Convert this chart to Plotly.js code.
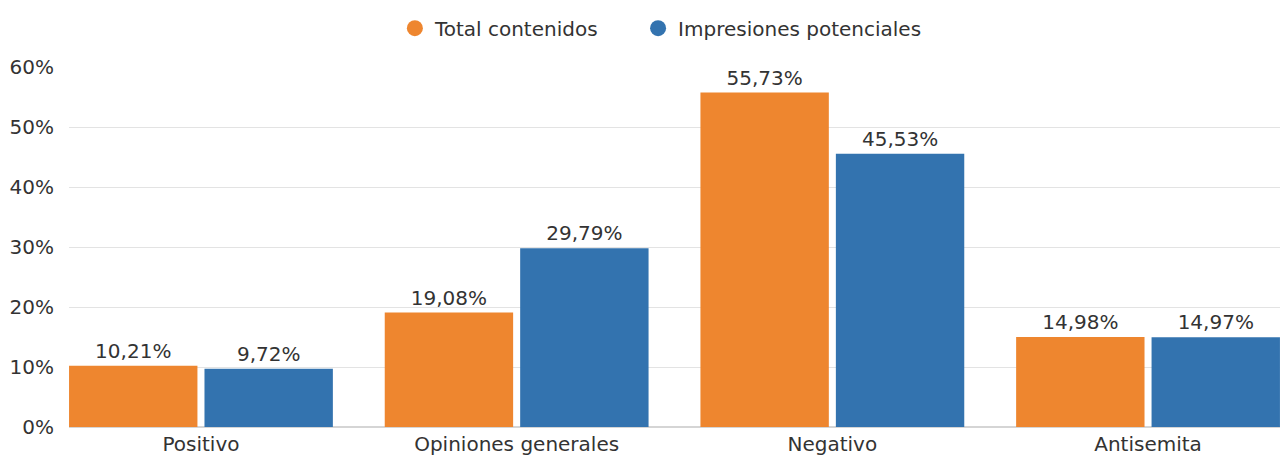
<!DOCTYPE html>
<html>
<head>
<meta charset="utf-8">
<script src="https://cdn.plot.ly/plotly-3.0.1.min.js"></script>
<style>html,body{margin:0;padding:0;background:#fff;}#chart{width:1280px;height:455px;}</style>
</head>
<body>
<div id="chart"></div>
<script>
const categories = ["Positivo", "Opiniones generales", "Negativo", "Antisemita"];
const totalContenidos = [10.21, 19.08, 55.73, 14.98];
const impresionesPotenciales = [9.72, 29.79, 45.53, 14.97];
const seriesNames = ["Total contenidos", "Impresiones potenciales"];
const yTicks = [0, 10, 20, 30, 40, 50, 60];

const orange = "#EE862F";
const blue = "#3373AF";
const font = "DejaVu Sans, sans-serif";
const fs = 20;

const data = [
  {type: "bar", x: categories, y: totalContenidos, name: seriesNames[0], marker: {color: orange},
   texttemplate: "%{y:.2f}%", textposition: "outside", cliponaxis: false, showlegend: false,
   textfont: {size: fs, color: "#333", family: font}, hoverinfo: "skip"},
  {type: "bar", x: categories, y: impresionesPotenciales, name: seriesNames[1], marker: {color: blue},
   texttemplate: "%{y:.2f}%", textposition: "outside", cliponaxis: false, showlegend: false,
   textfont: {size: fs, color: "#333", family: font}, hoverinfo: "skip"},
  {type: "scatter", mode: "markers", x: [null], y: [null], name: seriesNames[0], legend: "legend",
   marker: {color: orange, size: 18, symbol: "circle"}},
  {type: "scatter", mode: "markers", x: [null], y: [null], name: seriesNames[1], legend: "legend2",
   marker: {color: blue, size: 18, symbol: "circle"}}
];

const legendStyle = {orientation: "h", xref: "container", xanchor: "left", y: 0.938, yanchor: "middle", yref: "container",
                     font: {size: fs, color: "#333", family: font}};

const layout = {
  width: 1280, height: 455,
  margin: {l: 69, r: 0, t: 67, b: 28},
  paper_bgcolor: "#fff", plot_bgcolor: "#fff",
  separators: ",.",
  barmode: "group", bargap: 0.142, bargroupgap: 0.052,
  font: {family: font, size: fs, color: "#333"},
  showlegend: true,
  legend: Object.assign({}, legendStyle, {x: 0.3085}),
  legend2: Object.assign({}, legendStyle, {x: 0.4985}),
  xaxis: {type: "category", range: [-0.418, 3.418], showgrid: false, zeroline: false, showline: false,
          ticks: "", ticklabelstandoff: 3, tickfont: {size: fs, color: "#333", family: font}, fixedrange: true},
  yaxis: {range: [0, 60], tickvals: yTicks, ticktext: yTicks.map(v => v + "%"), showgrid: true,
          gridcolor: "#E3E3E3", gridwidth: 1, zeroline: true, zerolinecolor: "#D5D5D5", zerolinewidth: 1.5,
          showline: false, ticks: "", ticklabelstandoff: 14,
          tickfont: {size: fs, color: "#333", family: font}, fixedrange: true}
};

Plotly.newPlot("chart", data, layout, {displayModeBar: false, staticPlot: true});
</script>
</body>
</html>
